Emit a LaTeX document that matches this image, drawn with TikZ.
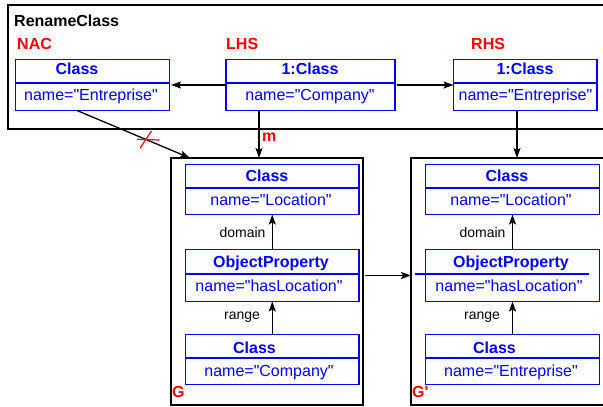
\documentclass[tikz,border=0pt]{standalone}
\usepackage{fontspec}
\newfontfamily\rcfont{Liberation Sans}
\usetikzlibrary{arrows.meta}
\definecolor{umlblue}{RGB}{0,0,255}
\definecolor{rulered}{RGB}{255,0,0}
\begin{document}
\begin{tikzpicture}[x=1pt,y=-1pt,
  frame/.style={draw=black,line width=2pt,inner sep=0pt,outer sep=0pt},
  umlbox/.style={draw=umlblue,line width=1.5pt,inner sep=0pt,outer sep=0pt},
  divider/.style={draw=umlblue,line width=1.3pt},
  head/.style={text=umlblue,font=\rcfont\fontsize{16}{19}\selectfont\bfseries,anchor=base,inner sep=0pt},
  attr/.style={text=umlblue,font=\rcfont\fontsize{16}{19}\selectfont,anchor=base,inner sep=0pt},
  tag/.style={text=rulered,font=\rcfont\fontsize{16}{19}\selectfont\bfseries,anchor=base west,inner sep=0pt},
  title/.style={text=black,font=\rcfont\fontsize{16}{19}\selectfont\bfseries,anchor=base west,inner sep=0pt},
  role/.style={text=black,font=\rcfont\fontsize{14}{17}\selectfont,anchor=base,inner sep=0pt},
  conn/.style={draw=black,line width=1.3pt,-{Stealth[length=10pt,width=7pt,inset=2pt]}},
  cross/.style={draw=rulered,line width=1.2pt}]
\clip (0,0) rectangle (603,407);
% frames
\node[frame,minimum width=640pt,minimum height=123.5pt] (rule) at (327.5,66.75) {};
\node[title] (rulename) at (14,26.7) {RenameClass};
\node[frame,minimum width=192pt,minimum height=247pt] (gframe) at (267,281.5) {};
\node[frame,minimum width=250pt,minimum height=247pt] (g2frame) at (536,281.5) {};
% rule labels
\node[tag] (nactag) at (17,49.5) {NAC};
\node[tag] (lhstag) at (226,49.5) {LHS};
\node[tag] (rhstag) at (471,49.5) {RHS};
\node[tag] (mtag) at (262,141.7) {m};
\node[tag] (gtag) at (172,397.7) {G};
\node[tag] (g2tag) at (412,397.7) {G'};
% NAC / LHS / RHS boxes
\node[umlbox,minimum width=154pt,minimum height=51pt] (nac) at (92.5,85) {};
\node[umlbox,minimum width=169pt,minimum height=51pt] (lhs) at (310.5,85) {};
\node[umlbox,minimum width=143.5pt,minimum height=51pt] (rhs) at (525.25,85) {};
\foreach \b in {nac,lhs,rhs}{\draw[divider] (\b.west |- 0,83) -- (\b.east |- 0,83);}
\node[head] (nachead) at (77,74) {Class};
\node[attr] (nacattr) at (91,100.7) {name="Entreprise"};
\node[head] (lhshead) at (310,74) {1:Class};
\node[attr] (lhsattr) at (310,100.7) {name="Company"};
\node[head] (rhshead) at (525,74) {1:Class};
\node[attr] (rhsattr) at (525.5,100.7) {name="Entreprise"};
% G boxes
\node[umlbox,minimum width=173.5pt,minimum height=50pt] (gtop) at (272.25,189.5) {};
\node[umlbox,minimum width=173.5pt,minimum height=52pt] (gop) at (272.25,275.5) {};
\node[umlbox,minimum width=173.5pt,minimum height=50pt] (gbot) at (272.25,359.5) {};
\draw[divider] (gtop.west |- 0,188) -- (gtop.east |- 0,188);
\draw[divider] (gop.west |- 0,274) -- (gop.east |- 0,274);
\draw[divider] (gbot.west |- 0,358) -- (gbot.east |- 0,358);
\node[head] (gtophead) at (267,181) {Class};
\node[attr] (gtopattr) at (271,205) {name="Location"};
\node[head] (gophead) at (271,267) {ObjectProperty};
\node[attr] (gopattr) at (269,291) {name="hasLocation"};
\node[head] (gbothead) at (254.5,353) {Class};
\node[attr] (gbotattr) at (269,376) {name="Company"};
\node[role] (gdomain) at (242.5,237.7) {domain};
\node[role] (grange) at (242,319) {range};
% G' boxes
\node[umlbox,minimum width=174pt,minimum height=50pt] (htop) at (512.5,189.5) {};
\node[umlbox,minimum width=174pt,minimum height=52pt] (hop) at (512.5,275.5) {};
\node[umlbox,minimum width=174pt,minimum height=50pt] (hbot) at (512.5,359.5) {};
\draw[divider] (htop.west |- 0,188) -- (htop.east |- 0,188);
\draw[divider] (415,274) -- (589,274);
\draw[divider] (hbot.west |- 0,358) -- (hbot.east |- 0,358);
\node[head] (htophead) at (507,181) {Class};
\node[attr] (htopattr) at (511,205) {name="Location"};
\node[head] (hophead) at (511,267) {ObjectProperty};
\node[attr] (hopattr) at (509,291) {name="hasLocation"};
\node[head] (hbothead) at (494.5,353) {Class};
\node[attr] (hbotattr) at (511,376) {name="Entreprise"};
\node[role] (hdomain) at (482.5,237.7) {domain};
\node[role] (hrange) at (482,319) {range};
% connectors
\coordinate (mx) at (259,0);
\coordinate (nx) at (77,0);
\coordinate (ntip) at (190,0);
\coordinate (rx) at (517,0);
\draw[conn,shorten >=1.5pt] (lhs) -- (nac);
\draw[conn,shorten <=1.5pt] (lhs) -- (rhs);
\draw[conn] (lhs.south -| mx) -- (gframe.north -| mx);
\draw[conn] (nac.south -| nx) -- (gframe.north -| ntip);
\draw[conn] (rhs.south -| rx) -- (g2frame.north -| rx);
\draw[conn,shorten <=2pt] (gframe.east |- gop) -- (g2frame.west |- gop);
\draw[conn] (gop.north) -- (gtop.south);
\draw[conn] (gbot.north) -- (gop.south);
\draw[conn] (hop.north) -- (htop.south);
\draw[conn] (hbot.north) -- (hop.south);
% negation mark
\draw[cross] (137,139.3) -- (159.5,140);
\draw[cross] (140,148.3) -- (151.5,131);
\end{tikzpicture}
\end{document}
